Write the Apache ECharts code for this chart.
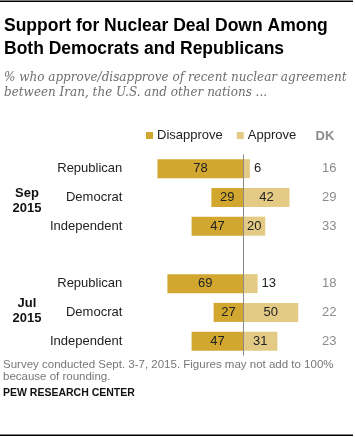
<!DOCTYPE html>
<html>
<head>
<meta charset="utf-8">
<script src="https://cdn.jsdelivr.net/npm/echarts@6/dist/echarts.min.js"></script>
<style>
html,body{margin:0;padding:0;background:#fff;}
#c{width:355px;height:437px;}
</style>
</head>
<body>
<div id="c"></div>
<script>
const categories = ['Republican', 'Democrat', 'Independent', '', 'Republican', 'Democrat', 'Independent'];
const disapprove = [78, 29, 47, null, 69, 27, 47];
const approve = [6, 42, 20, null, 13, 50, 31];
const dk = [16, 29, 33, null, 18, 22, 23];
const groupLabels = ['Sep\n2015', 'Jul\n2015'];
const groupRows = [1, 5];

const FONT = '"Liberation Sans", Arial, sans-serif';
const DARK = '#D1A730';
const LIGHT = '#E3CB85';
const GROUP_SHIFT = [4, -1];

const chart = echarts.init(document.getElementById('c'), null, {renderer: 'canvas'});

const approveData = approve.map(v => v == null ? null : {
  value: v,
  label: {position: v < 15 ? 'right' : 'inside', distance: 4}
});

const option = {
  animation: false,
  backgroundColor: '#fff',
  textStyle: {fontFamily: FONT},
  legend: {
    data: ['Disapprove', 'Approve'],
    left: 146,
    top: 129,
    padding: 0,
    itemWidth: 7,
    itemHeight: 7,
    itemGap: 14,
    icon: 'rect',
    textStyle: {fontFamily: FONT, fontSize: 13, color: '#222', padding: [0, 0, 0, -1]},
    selectedMode: false
  },
  grid: {left: 155.3, right: 45.7, top: 154.3, bottom: 81.5, containLabel: false},
  xAxis: {
    type: 'value', min: -80, max: 60,
    show: false
  },
  yAxis: [{
    type: 'category',
    inverse: true,
    data: categories,
    axisLine: {show: false},
    axisTick: {show: false},
    axisLabel: {fontFamily: FONT, fontSize: 13, color: '#222', margin: 33}
  }, {
    type: 'category',
    inverse: true,
    position: 'right',
    data: dk.map(v => v == null ? '' : String(v)),
    axisLine: {show: false},
    axisTick: {show: false},
    axisLabel: {fontFamily: FONT, fontSize: 13, color: '#8c8c8c', margin: 20, align: 'center'}
  }],
  series: [{
    name: 'Disapprove',
    type: 'bar',
    stack: 'a',
    barWidth: 19,
    itemStyle: {color: DARK},
    data: disapprove.map(v => v == null ? null : -v),
    label: {
      show: true, position: 'inside',
      fontFamily: FONT, fontSize: 13, color: '#222',
      formatter: p => Math.abs(p.value)
    },
    markLine: {
      silent: true,
      symbol: 'none',
      label: {show: false},
      lineStyle: {color: '#8a8a8a', width: 1, type: 'solid'},
      data: [{xAxis: 0}]
    }
  }, {
    name: 'Approve',
    type: 'bar',
    stack: 'a',
    barWidth: 19,
    itemStyle: {color: LIGHT},
    data: approveData,
    label: {
      show: true,
      fontFamily: FONT, fontSize: 13, color: '#222'
    }
  }]
};

chart.setOption(option);

const groupGraphics = groupLabels.map((t, i) => {
  const y = chart.convertToPixel({yAxisIndex: 0}, groupRows[i]);
  return {
    type: 'text',
    x: 27, y: y + GROUP_SHIFT[i],
    style: {
      text: t, fontFamily: FONT, fontSize: 13, fontWeight: 'bold',
      fill: '#111', align: 'center', verticalAlign: 'middle', lineHeight: 15
    }
  };
});

chart.setOption({
  graphic: [
    {type: 'rect', shape: {x: 0, y: 0.5, width: 353, height: 1.5}, style: {fill: '#000'}},
    {type: 'text', x: 4, y: 26.5, style: {text: 'Support for Nuclear Deal Down Among', fontFamily: FONT, fontSize: 17.5, fontWeight: 'bold', fill: '#000', verticalAlign: 'middle'}},
    {type: 'text', x: 4, y: 49, style: {text: 'Both Democrats and Republicans', fontFamily: FONT, fontSize: 17.5, fontWeight: 'bold', fill: '#000', verticalAlign: 'middle'}},
    {type: 'text', x: 4, y: 77.5, style: {text: '% who approve/disapprove of recent nuclear agreement', fontFamily: '"DejaVu Serif", serif', fontStyle: 'italic', fontSize: 12, fill: '#6d6d6d', verticalAlign: 'middle'}},
    {type: 'text', x: 4, y: 92.5, style: {text: 'between Iran, the U.S. and other nations ...', fontFamily: '"DejaVu Serif", serif', fontStyle: 'italic', fontSize: 12, fill: '#6d6d6d', verticalAlign: 'middle'}},
    {type: 'text', x: 325, y: 136, style: {text: 'DK', fontFamily: FONT, fontSize: 13, fontWeight: 'bold', fill: '#8c8c8c', align: 'center', verticalAlign: 'middle'}},
    {type: 'text', x: 3, y: 364.5, style: {text: 'Survey conducted Sept. 3-7, 2015. Figures may not add to 100%', fontFamily: FONT, fontSize: 11.5, fill: '#777', verticalAlign: 'middle'}},
    {type: 'text', x: 3, y: 377, style: {text: 'because of rounding.', fontFamily: FONT, fontSize: 11.5, fill: '#777', verticalAlign: 'middle'}},
    {type: 'text', x: 3, y: 393, style: {text: 'PEW RESEARCH CENTER', fontFamily: FONT, fontSize: 10.5, fontWeight: 'bold', fill: '#111', verticalAlign: 'middle'}},
    {type: 'rect', shape: {x: 0, y: 434.5, width: 353, height: 1.5}, style: {fill: '#000'}}
  ].concat(groupGraphics)
});
</script>
</body>
</html>
